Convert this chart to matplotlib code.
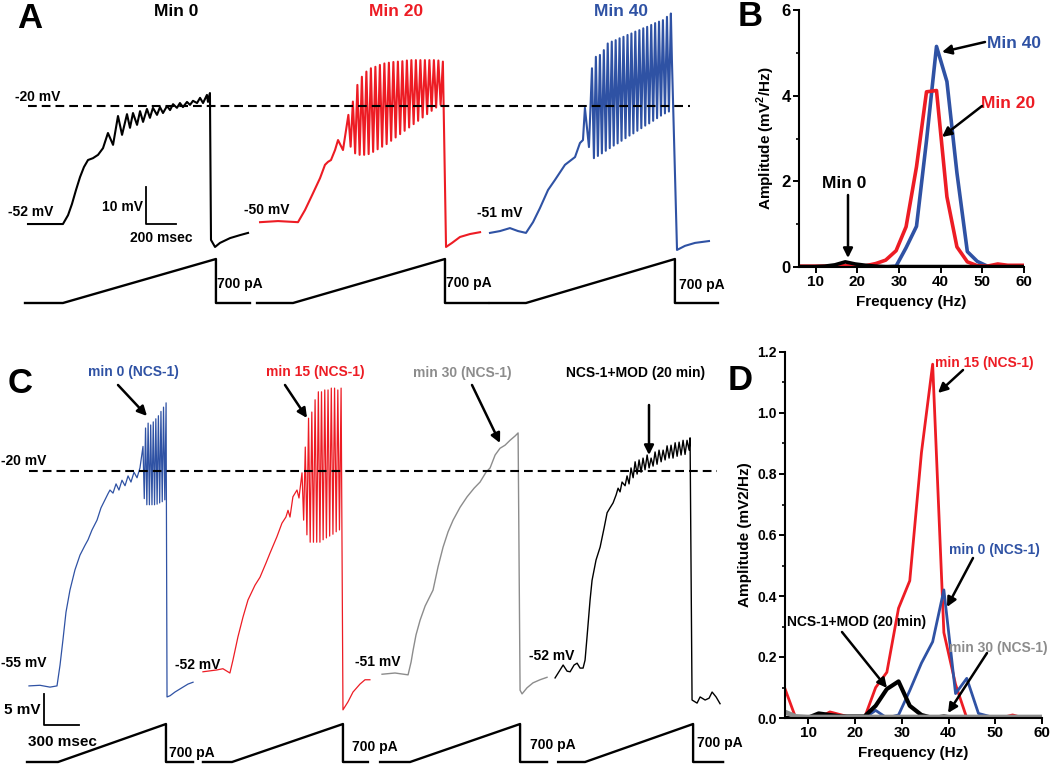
import numpy as np
import matplotlib.pyplot as plt

plt.rcParams['font.family'] = ['Liberation Sans', 'DejaVu Sans']
plt.rcParams['font.weight'] = 'bold'
plt.rcParams['axes.labelweight'] = 'bold'
plt.rcParams['mathtext.fontset'] = 'custom'
plt.rcParams['mathtext.bf'] = 'Liberation Sans:bold'
plt.rcParams['mathtext.rm'] = 'Liberation Sans:bold'

RED = '#ed1c24'; BLUE = '#2f52a4'; GRAY = '#8c8c8c'
W, H = 1050, 765

####################################################
# (1) Panel A sweeps (local time ms, membrane potential mV)
a0_t = [0, 233, 267, 293, 320, 347, 373, 400, 433, 467, 500, 533, 567, 600, 627, 660, 680, 700, 727, 747,
        767, 793, 813, 833, 860, 880, 900, 927, 947, 967, 993, 1013, 1033, 1060, 1080, 1100, 1127, 1147, 1167,
        1193, 1200, 1213, 1220, 1247, 1280, 1347, 1413, 1467]
a0_v = [-51.9, -51.9, -49.5, -46.5, -42.7, -39.2, -36.5, -34.6, -34.1, -33.2, -31.4, -27.3, -30.5, -22.7, -27.8,
        -22.2, -25.9, -21.9, -25.1, -21.4, -24.3, -20.8, -23.2, -20.5, -22.4, -20.3, -21.9, -20.0, -21.1, -19.5,
        -20.5, -19.2, -20.3, -18.9, -19.7, -18.6, -19.2, -17.8, -19.2, -17.0, -18.9, -16.5, -56.2, -58.1, -57.0,
        -55.7, -54.9, -54.3]

a20_pre_t = [0, 120, 253, 300, 347, 400, 433, 453, 473, 500, 520, 553]
a20_pre_v = [-51.4, -51.1, -51.4, -48.1, -44.1, -39.5, -35.9, -35.1, -34.6, -31.9, -29.2, -31.9]
a20_pk_t = [589, 619, 649, 679, 709, 739, 769, 799, 829, 859, 889, 919, 949, 979, 1009, 1039, 1069, 1099,
            1129, 1159, 1189, 1219]
a20_pk_v = [-22.4, -18.8, -14.3, -12.1, -10.7, -9.8, -9.4, -8.9, -8.5, -8.3, -8.1, -8.0, -7.9, -7.7, -7.6,
            -7.6, -7.6, -7.6, -7.6, -7.6, -7.7, -8.0]
a20_tr_v = [-31.0, -32.8, -33.2, -33.2, -33.0, -32.4, -31.7, -31.0, -30.3, -29.4, -28.5, -27.6, -26.7, -25.8,
            -24.9, -24.0, -23.1, -22.2, -21.3, -20.4, -19.7]
a20_post_t = [1240, 1280, 1333, 1400, 1467]
a20_post_v = [-58.1, -57.0, -55.4, -54.6, -54.1]

a40_pre_t = [0, 67, 133, 187, 240, 287, 333, 387, 433, 500, 567, 600, 620, 633, 660]
a40_pre_v = [-54.3, -53.8, -53.0, -53.8, -54.3, -51.4, -47.6, -42.7, -40.0, -35.9, -33.8, -30.0, -29.2,
             -20.5, -31.1]
a40_pk_t = [680, 706, 733, 759, 785, 812, 838, 864, 890, 917, 943, 969, 996, 1022, 1048, 1075, 1101, 1127,
            1153, 1180, 1206]
a40_pk_v = [-9.8, -6.7, -6.2, -4.9, -3.1, -2.6, -2.2, -1.7, -1.3, -0.8, -0.4, 0.1, 0.5, 1.0, 1.4, 1.9, 2.4,
            2.8, 3.2, 4.1, 5.0]
a40_tr_v = [-34.1, -33.5, -32.8, -32.1, -31.4, -30.7, -30.1, -29.4, -28.7, -28.0, -27.4, -26.7, -26.0, -25.3,
            -24.7, -24.0, -23.3, -22.6, -22.0, -21.5]
a40_post_t = [1213, 1247, 1300, 1367, 1460]
a40_post_v = [-7.6, -58.9, -57.8, -57.0, -56.5]

# current ramps (ms, pA)
a_ramp_t = [[-20, 233, 1253, 1253, 1480], [-20, 220, 1233, 1233, 1520], [0, 240, 1233, 1233, 1520]]
ramp_i = [0, 0, 700, 0, 0]

####################################################
# (2) Panel C sweeps
c0_pre_t = [0, 94, 180, 240, 266, 291, 317, 351, 394, 437, 480, 506, 540, 583, 617, 651, 677, 694, 720, 746,
            771, 797, 823, 849, 874, 900, 926, 951]
c0_pre_v = [-55.0, -54.9, -55.2, -55.0, -51.6, -47.5, -43.0, -39.4, -36.1, -33.7, -32.1, -31.2, -29.6, -28.0,
            -26.0, -24.7, -23.7, -23.1, -23.6, -22.1, -23.1, -21.5, -22.4, -20.8, -21.8, -20.2, -21.1, -19.5]
c0_pk_t = [977, 999, 1021, 1043, 1065, 1087, 1109, 1131, 1153, 1175]
c0_pk_v = [-16.0, -13.0, -12.2, -12.5, -12.0, -11.5, -11.0, -10.3, -9.6, -8.9]
c0_tr_v = [-24.5, -25.5, -25.5, -25.5, -25.5, -25.4, -25.2, -25.0, -24.7]
c0_post_t = [1183, 1209, 1251, 1311, 1363, 1406]
c0_post_v = [-56.8, -56.6, -56.0, -55.3, -54.7, -54.4]

c15_pre_t = [0, 120, 171, 231, 257, 300, 343, 386, 446, 489, 540, 574, 634, 677, 711, 729, 746, 771, 806, 823]
c15_pre_v = [-52.7, -52.4, -52.2, -52.9, -50.8, -47.0, -43.8, -41.0, -38.6, -37.3, -35.0, -33.4, -30.7, -28.5,
             -27.5, -26.4, -27.5, -24.2, -23.1, -24.4]
c15_pk_t = [849, 877, 905, 933, 961, 989, 1016, 1044, 1072, 1100, 1128, 1156, 1184]
c15_pk_v = [-20.3, -16.1, -11.4, -10.4, -8.4, -7.1, -7.1, -6.8, -6.8, -6.5, -6.5, -6.8, -6.5]
c15_tr_v = [-28.0, -30.4, -31.6, -31.6, -31.6, -31.6, -31.2, -30.9, -30.6, -30.3, -29.9, -29.6]
c15_post_t = [1200, 1243, 1286, 1346, 1389, 1431]
c15_post_v = [-58.9, -57.6, -56.0, -54.7, -54.0, -54.0]

c30_t = [0, 111, 223, 249, 266, 291, 326, 369, 437, 480, 523, 566, 609, 669, 729, 789, 840, 891, 926, 969,
         1011, 1054, 1097, 1140, 1166, 1183, 1200, 1243, 1294, 1354, 1414]
c30_v = [-53.1, -52.9, -53.2, -51.1, -49.2, -46.7, -44.3, -42.0, -39.4, -35.6, -32.4, -29.9, -28.0, -25.9,
         -24.2, -22.8, -21.8, -20.2, -19.5, -17.4, -16.3, -15.8, -15.0, -14.3, -13.8, -55.7, -56.3, -55.3,
         -54.5, -54.0, -53.6]

cmod_t = [0, 43, 69, 103, 129, 163, 189, 214, 240, 257, 274, 300, 317, 351, 386, 420, 446, 471, 497, 523,
          540, 557, 574, 600, 617, 634, 651, 669, 686, 703, 720, 737, 754, 771, 789, 806, 823, 840, 857, 874,
          891, 909, 926, 943, 960, 977, 994, 1011, 1029, 1046, 1063, 1080, 1097, 1114, 1131, 1149, 1157,
          1174, 1217, 1243, 1286, 1320, 1346, 1380, 1414]
cmod_v = [-53.7, -52.4, -51.6, -52.6, -52.7, -51.6, -51.3, -52.1, -52.1, -50.8, -47.0, -41.0, -37.8, -34.5,
          -32.4, -29.3, -26.8, -26.0, -25.2, -23.9, -22.8, -23.4, -21.8, -22.4, -20.8, -22.1, -19.5, -21.1,
          -18.5, -20.5, -18.2, -20.2, -17.9, -19.8, -17.4, -19.5, -17.9, -19.2, -16.9, -18.9, -16.6, -18.5,
          -16.6, -18.2, -15.9, -17.9, -15.8, -17.9, -15.4, -17.6, -15.3, -17.4, -15.0, -17.3, -15.0, -16.6,
          -14.6, -57.3, -57.8, -56.8, -57.3, -57.0, -56.0, -56.8, -57.9]

c_ramp_t = [[-17, 249, 1174, 1174, 1406], [0, 249, 1200, 1200, 1414], [-17, 240, 1183, 1183, 1414],
            [26, 257, 1183, 1183, 1440]]

####################################################
# (3) Power spectra
freq = [4.9, 7.3, 9.8, 12.2, 14.6, 17.1, 19.5, 22.0, 24.4, 26.8, 29.3, 31.7, 34.2, 36.6, 39.0, 41.5, 43.9,
        46.4, 48.8, 51.2, 53.7, 56.1, 58.6, 61.0]
b_min0 = [0.01, 0.01, 0.01, 0.02, 0.05, 0.12, 0.07, 0.04, 0.02, 0.01, 0.01, 0.01, 0.01, 0.01, 0.01, 0.01,
          0.01, 0.01, 0.01, 0.01, 0.01, 0.01, 0.01, 0.01]
b_min20 = [0.02, 0.02, 0.02, 0.02, 0.02, 0.03, 0.02, 0.03, 0.08, 0.16, 0.38, 0.94, 2.34, 4.09, 4.12, 1.64,
           0.47, 0.12, 0.03, 0.02, 0.07, 0.04, 0.04, 0.04]
b_min40 = [0.0, 0.0, 0.0, 0.0, 0.0, 0.0, 0.0, 0.0, 0.0, 0.0, 0.02, 0.45, 0.95, 2.95, 5.15, 4.33, 2.2, 0.36,
           0.13, 0.02, 0.01, 0.01, 0.01, 0.01]

d_min0 = [0.0, 0.0, 0.0, 0.0, 0.0, 0.0, 0.0, 0.0, 0.025, 0.0, 0.01, 0.09, 0.18, 0.25, 0.42, 0.08, 0.13, 0.015,
          0.005, 0.005, 0.005, 0.005, 0.005, 0.005]
d_min15 = [0.1, 0.0, 0.0, 0.0, 0.02, 0.01, 0.0, 0.0, 0.1, 0.15, 0.36, 0.45, 0.87, 1.16, 0.28, 0.11, 0.0, 0.0,
           0.0, 0.0, 0.01, 0.0, 0.0, 0.0]
d_min30 = [0.02, 0.005, 0.003, 0.003, 0.003, 0.003, 0.003, 0.003, 0.003, 0.003, 0.003, 0.003, 0.003, 0.003,
           0.003, 0.003, 0.003, 0.003, 0.003, 0.003, 0.003, 0.003, 0.003, 0.003]
d_mod = [0.0, 0.0, 0.0, 0.015, 0.01, 0.005, 0.005, 0.005, 0.04, 0.095, 0.12, 0.04, 0.01, 0.0, 0.005, 0.0, 0.0,
         0.0, 0.0, 0.0, 0.0, 0.0, 0.0, 0.0]


def sweep(pre_t, pre_v, pk_t=(), pk_v=(), tr_v=(), post_t=(), post_v=()):
    t = list(pre_t); v = list(pre_v)
    for i in range(len(pk_t)):
        t.append(pk_t[i]); v.append(pk_v[i])
        if i < len(tr_v):
            t.append((pk_t[i] + pk_t[i + 1]) / 2); v.append(tr_v[i])
    t += list(post_t); v += list(post_v)
    return np.array(t), np.array(v)


fig = plt.figure(figsize=(W / 100, H / 100), dpi=100)


def px_axes(left, top, right, bottom):
    return fig.add_axes([left / W, 1 - bottom / H, (right - left) / W, (bottom - top) / H])


def trace_axes(top, bottom, t0px, mspx, y20, pxmv):
    ax = px_axes(0, top, 730, bottom)
    ax.set_xlim(-t0px * mspx, (730 - t0px) * mspx)
    ax.set_ylim(-20 - (bottom - y20) / pxmv, -20 + (y20 - top) / pxmv)
    ax.axis('off')
    return ax


def ramp_axes(top, bottom, zero_px, papx, t0px, mspx):
    ax = px_axes(0, top, 730, bottom)
    ax.set_xlim(-t0px * mspx, (730 - t0px) * mspx)
    ax.set_ylim(-(bottom - zero_px) * papx, (zero_px - top) * papx)
    ax.axis('off')
    return ax


dash = (0, (4.2, 2.4))

# ---------------- panel A traces
axA = trace_axes(0, 255, 28, 6.667, 106, 3.7)
rA = ramp_axes(250, 312, 303, 700 / 44, 28, 6.667)
offA = [0, 1547, 3080]
sweepsA = [(sweep(a0_t, a0_v), 'k'),
           (sweep(a20_pre_t, a20_pre_v, a20_pk_t, a20_pk_v, a20_tr_v, a20_post_t, a20_post_v), RED),
           (sweep(a40_pre_t, a40_pre_v, a40_pk_t, a40_pk_v, a40_tr_v, a40_post_t, a40_post_v), BLUE)]
for ((t, v), col), off, rt in zip(sweepsA, offA, a_ramp_t):
    axA.plot(t + off, v, color=col, lw=1.5, clip_on=False)
    rA.plot(np.array(rt) + off, ramp_i, color='k', lw=1.7, clip_on=False)
axA.plot([0, 4413], [-20, -20], color='k', lw=1.5, ls=dash, clip_on=False)
axA.plot([787, 787, 987], [-41.9, -51.9, -51.9], color='k', lw=1.3, clip_on=False)

# ---------------- panel C traces
axC = trace_axes(340, 712, 29, 8.571, 471, 6.14)
rC = ramp_axes(712, 768, 762, 700 / 38, 29, 8.571)
offC = [0, 1491, 3026, 4509]
sweepsC = [(sweep(c0_pre_t, c0_pre_v, c0_pk_t, c0_pk_v, c0_tr_v, c0_post_t, c0_post_v), BLUE, 0.9),
           (sweep(c15_pre_t, c15_pre_v, c15_pk_t, c15_pk_v, c15_tr_v, c15_post_t, c15_post_v), RED, 0.9),
           (sweep(c30_t, c30_v), GRAY, 1.0),
           (sweep(cmod_t, cmod_v), 'k', 1.0)]
for ((t, v), col, lw), off, rt in zip(sweepsC, offC, c_ramp_t):
    axC.plot(t + off, v, color=col, lw=lw, clip_on=False)
    rC.plot(np.array(rt) + off, ramp_i, color='k', lw=1.7, clip_on=False)
axC.plot([0, 5897], [-20, -20], color='k', lw=1.5, ls=dash, clip_on=False)
axC.plot([129, 129, 429], [-56.4, -61.4, -61.4], color='k', lw=1.3, clip_on=False)


# ---------------- spectra
def style_spec(ax, xlim, ylim, yticks, yminor, ylabel, fs_y, pad):
    ax.set_xlim(*xlim); ax.set_ylim(*ylim)
    ax.set_xticks([10, 20, 30, 40, 50, 60])
    ax.set_yticks(yticks)
    ax.set_yticks(yminor, minor=True)
    for s in ['top', 'right']:
        ax.spines[s].set_visible(False)
    for s in ['left', 'bottom']:
        ax.spines[s].set_linewidth(1.5)
    ax.tick_params(direction='out', length=4, width=1.4, labelsize=11, pad=2)
    ax.tick_params(axis='y', labelsize=fs_y)
    ax.tick_params(which='minor', direction='out', length=2.5, width=1.2)
    ax.set_xlabel('Frequency (Hz)', fontsize=11, labelpad=4)
    ax.set_ylabel(ylabel, fontsize=11, labelpad=pad)
    for lb in ax.get_xticklabels() + ax.get_yticklabels():
        lb.set_fontweight('bold')


axB = px_axes(799, 10, 1024, 267)
axB.plot(freq, b_min40, color=BLUE, lw=2.6)
axB.plot(freq, b_min20, color=RED, lw=2.6)
axB.plot(freq, b_min0, color='k', lw=2.6)
style_spec(axB, (6, 60), (0, 6), [0, 2, 4, 6], [1, 3, 5], r'Amplitude (mV$^{\mathbf{2}}$/Hz)', 12, 3)

axD = px_axes(785, 352, 1042, 718)
axD.plot(freq, d_min15, color=RED, lw=2.0)
axD.plot(freq, d_min0, color=BLUE, lw=2.0)
axD.plot(freq, d_mod, color='k', lw=3.0)
axD.plot(freq, d_min30, color=GRAY, lw=3.5)
style_spec(axD, (5, 60), (0, 1.2), [0.0, 0.2, 0.4, 0.6, 0.8, 1.0, 1.2], [0.1, 0.3, 0.5, 0.7, 0.9, 1.1],
           'Amplitude (mV2/Hz)', 10, 4)
axD.set_yticklabels(['0.0', '0.2', '0.4', '0.6', '0.8', '1.0', '1.2'], fontweight='bold')

# ---------------- overlay for labels and arrows (figure pixels)
ov = fig.add_axes([0, 0, 1, 1], zorder=10)
ov.set_xlim(0, W); ov.set_ylim(H, 0); ov.axis('off'); ov.patch.set_visible(False)


def txt(x, y, s, size=10, color='k', ha='center'):
    ov.text(x, y, s, fontsize=size, color=color, ha=ha, va='center', fontweight='bold')


def arrow(x0, y0, x1, y1):
    ov.annotate('', xy=(x1, y1), xytext=(x0, y0),
                arrowprops=dict(arrowstyle='-|>', color='k', lw=1.8, mutation_scale=14,
                                shrinkA=0, shrinkB=0))


for s, x, y in [('A', 30, 18), ('B', 750, 16), ('C', 20, 383), ('D', 740, 380)]:
    txt(x, y, s, size=25)

txt(176, 11, 'Min 0', 12.5)
txt(396, 11, 'Min 20', 12.5, RED)
txt(621, 11, 'Min 40', 12.5, BLUE)
txt(38, 97, '-20 mV', 10)
txt(31, 212, '-52 mV', 10)
txt(267, 210, '-50 mV', 10)
txt(500, 213, '-51 mV', 10)
txt(143, 207, '10 mV', 10, ha='right')
txt(161, 238, '200 msec', 10)
for x, y in [(240, 284), (469, 283), (702, 285)]:
    txt(x, y, '700 pA', 10)

txt(24, 461, '-20 mV', 10)
txt(24, 663, '-55 mV', 10)
txt(198, 665, '-52 mV', 10)
txt(378, 662, '-51 mV', 10)
txt(552, 656, '-52 mV', 10)
txt(22, 710, '5 mV', 11)
txt(62, 742, '300 msec', 11)
for x, y in [(192, 753), (375, 747), (553, 745), (720, 743)]:
    txt(x, y, '700 pA', 10)

txt(133, 372, 'min 0 (NCS-1)', 10, BLUE)
txt(315, 372, 'min 15 (NCS-1)', 10, RED)
txt(462, 373, 'min 30 (NCS-1)', 10, GRAY)
txt(636, 373, 'NCS-1+MOD (20 min)', 10)
arrow(118, 385, 147, 416)
arrow(285, 385, 307, 418)
arrow(472, 385, 500, 443)
arrow(649, 405, 649, 455)

txt(1014, 43, 'Min 40', 12.5, BLUE)
txt(1008, 103, 'Min 20', 12.5, RED)
txt(844, 183, 'Min 0', 12.5)
arrow(985, 42, 942, 52)
arrow(982, 106, 942, 137)
arrow(848, 195, 848, 258)

txt(984, 363, 'min 15 (NCS-1)', 10, RED)
txt(994, 550, 'min 0 (NCS-1)', 10, BLUE)
txt(857, 622, 'NCS-1+MOD (20 min)', 10)
txt(998, 648, 'min 30 (NCS-1)', 10, GRAY)
arrow(963, 370, 938, 393)
arrow(973, 558, 947, 607)
arrow(842, 632, 887, 688)
arrow(987, 653, 948, 713)

fig.savefig('out.png', dpi=100)
